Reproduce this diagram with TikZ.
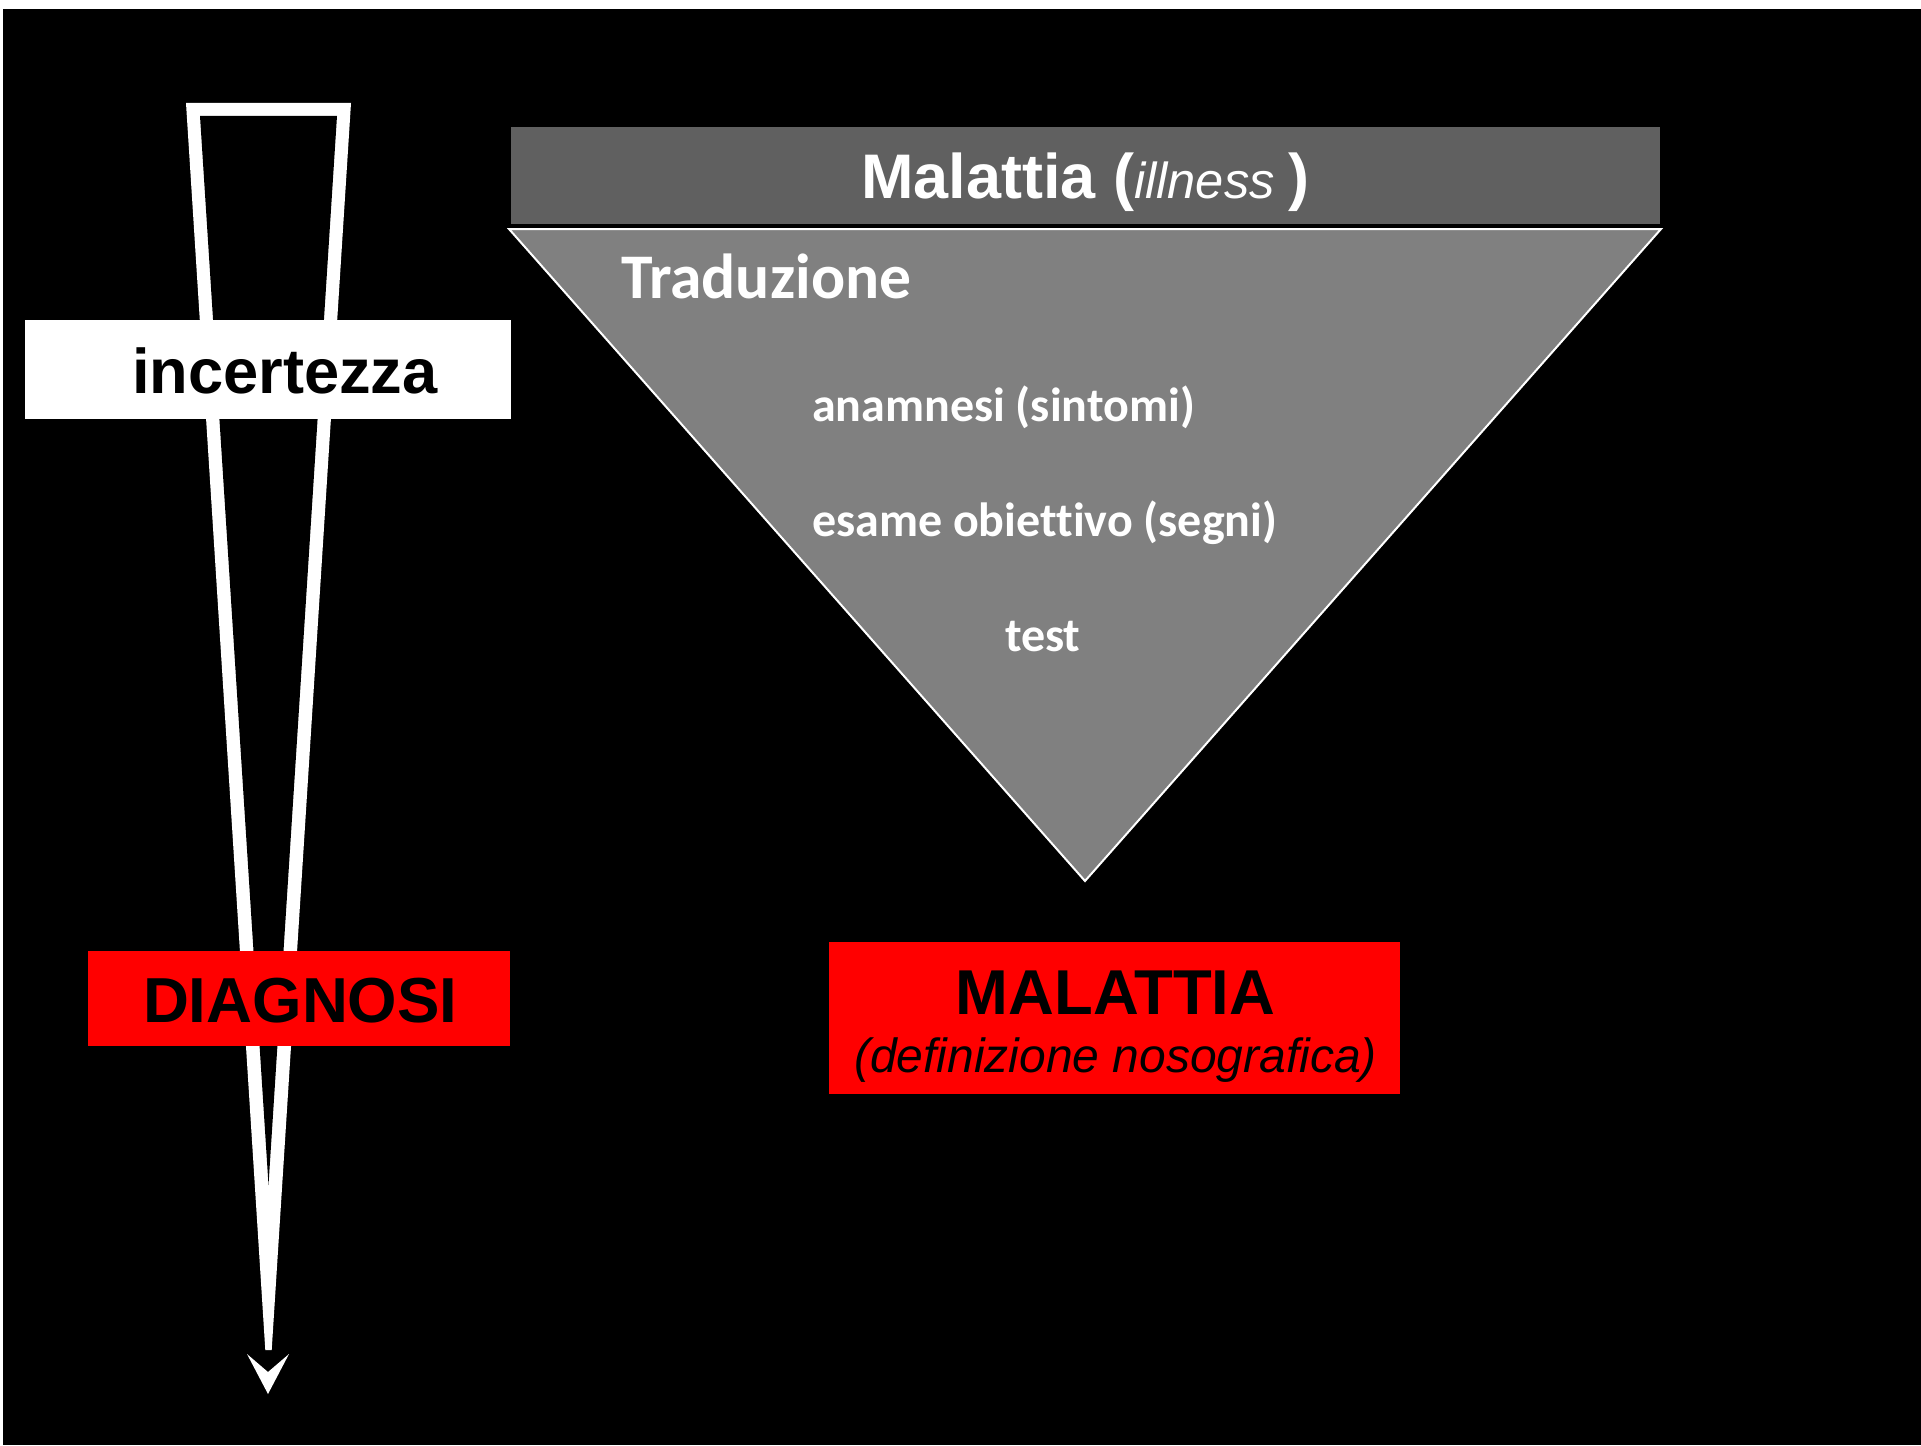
\documentclass[tikz,border=0pt]{standalone}
\usepackage{fontspec}
\setmainfont{Liberation Sans}
\newfontfamily\calib[Ligatures={NoCommon}]{Carlito}
\definecolor{hdrgray}{HTML}{606060}
\definecolor{trigray}{HTML}{808080}
\definecolor{boxred}{HTML}{FF0000}
\tikzset{
  box/.style={inner sep=0pt, outer sep=0pt, draw=none},
  txt/.style={inner sep=0pt, outer sep=0pt},
}
\begin{document}
\begin{tikzpicture}[x=0.5pt,y=-0.5pt]
\useasboundingbox (0,0) rectangle (1921,1445);
\fill[white] (0,0) rectangle (1921,1445);
\fill[black] (3,9) rectangle (1921,1445);
% funnel (uncertainty)
\fill[white] (186,103) -- (351,103) -- (271.7,1350) -- (265.3,1350) -- cycle;
\fill[black] (200,116) -- (337,116) -- (268.5,1185) -- cycle;
\fill[white] (247,1354) -- (268,1372) -- (289,1354) -- (268,1394) -- cycle;
% boxes
\node[box, fill=white, minimum width=243pt, minimum height=49.5pt] (inc) at (268,369.5) {};
\node[txt, anchor=base west] (inctxt) at (132,393) {\fontsize{31.6pt}{36pt}\selectfont\bfseries incertezza};
\node[box, fill=boxred, minimum width=211pt, minimum height=47.5pt] (diag) at (299,998.5) {};
\node[txt, anchor=base west] (diagtxt) at (143,1022) {\fontsize{31.8pt}{36pt}\selectfont\bfseries DIAGNOSI};
% header
\node[box, fill=hdrgray, minimum width=574.5pt, minimum height=48.5pt] (hdr) at (1085.5,175.5) {};
\node[txt, anchor=base west, text=white] (hdrtxt) at (861,198) {\fontsize{31.5pt}{36pt}\selectfont\bfseries Malattia (\mdseries\itshape\fontsize{25.3pt}{30pt}\selectfont illness \upshape\bfseries\fontsize{31.5pt}{36pt}\selectfont)};
% triangle
\draw[white, line width=1pt, fill=trigray, line join=miter] (509,229) -- (1661,229) -- (1085,881) -- cycle;
\node[txt, anchor=base west, text=white] (trad) at (621,298) {\calib\fontsize{31.8pt}{36pt}\selectfont\bfseries Traduzione};
\node[txt, anchor=west, text=white] (anam) at (812,407) {\calib\fontsize{24pt}{28pt}\selectfont\bfseries anamnesi (sintomi)};
\node[txt, anchor=west, text=white] (esame) at (812,523) {\calib\fontsize{24pt}{28pt}\selectfont\bfseries esame obiettivo (segni)};
\node[txt, anchor=west, text=white] (test) at (1005,637) {\calib\fontsize{24pt}{28pt}\selectfont\bfseries test};
% MALATTIA box
\node[box, fill=boxred, minimum width=285.5pt, minimum height=76pt] (mal) at (1114.5,1018) {};
\node[txt, anchor=base] (maltxt) at (1115.5,1014) {\fontsize{31.7pt}{36pt}\selectfont\bfseries MALATTIA};
\node[txt, anchor=base] (deftxt) at (1115.5,1072) {\fontsize{24pt}{29pt}\selectfont\itshape (definizione nosografica)};
\end{tikzpicture}
\end{document}
